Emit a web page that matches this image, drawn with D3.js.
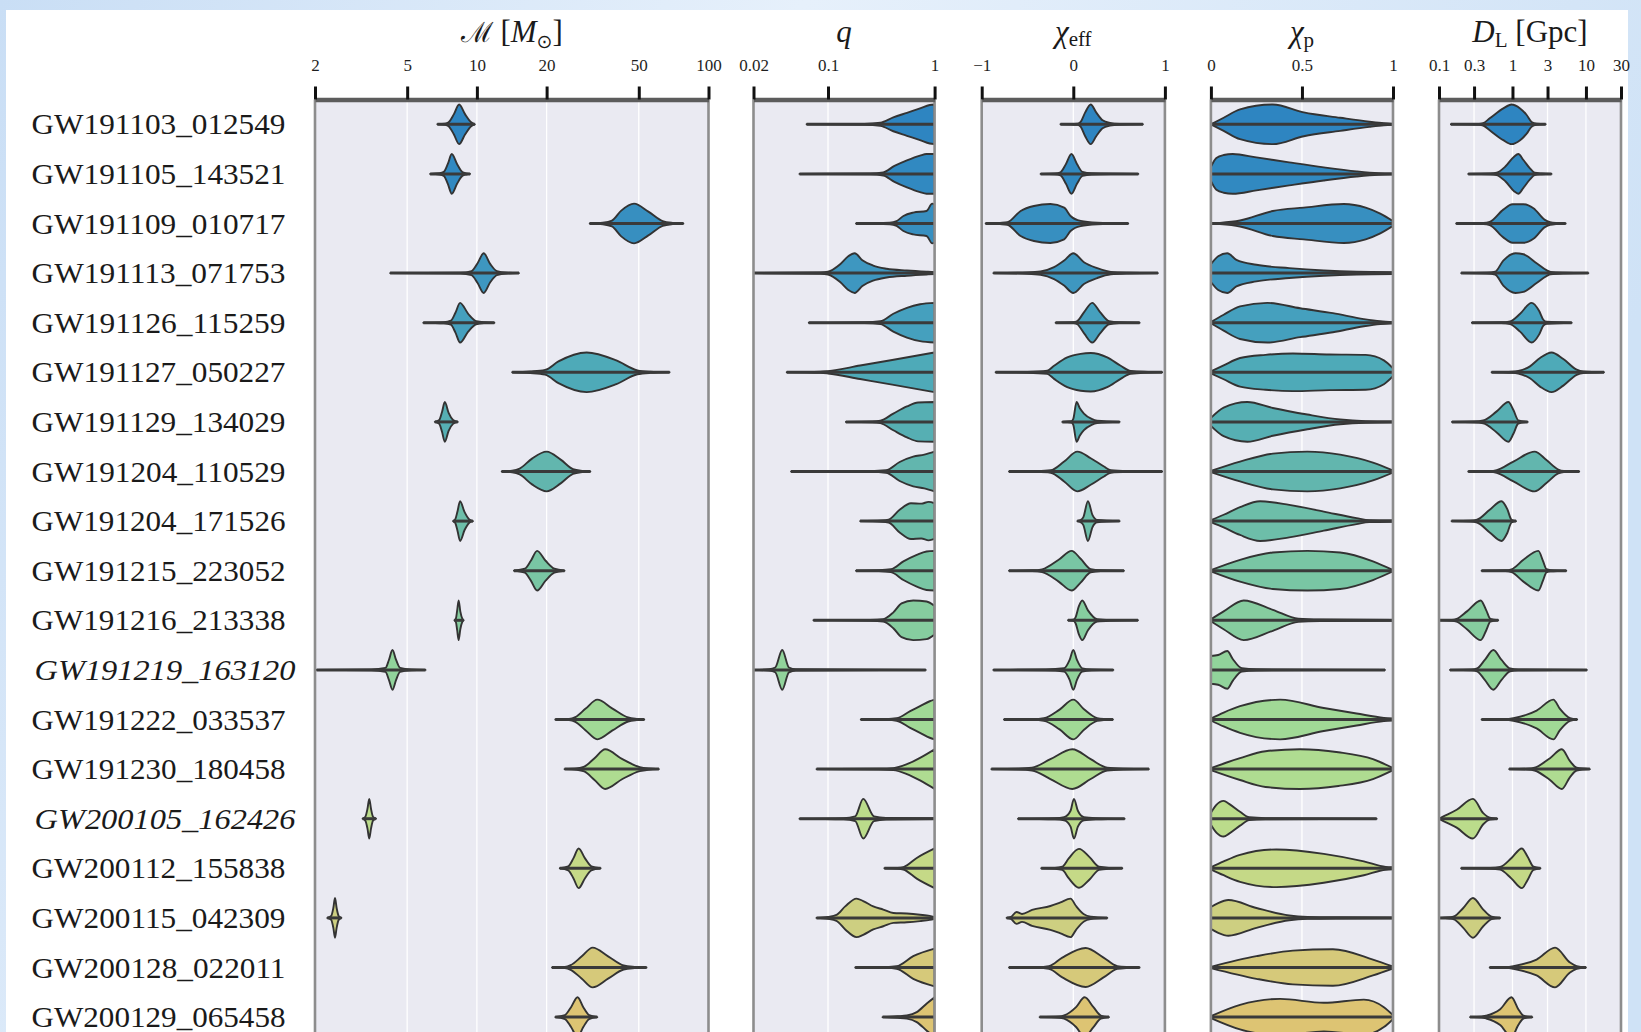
<!DOCTYPE html>
<html>
<head>
<meta charset="utf-8">
<script src="https://cdn.jsdelivr.net/npm/d3@7"></script>
<style>
  html, body { margin: 0; padding: 0; background: #fff; overflow: hidden; }
  svg { display: block; }
</style>
</head>
<body>
<svg id="chart" width="1641" height="1032"></svg>
<script>
// ---- Events (rows, top to bottom) ----
const events = [
  "GW191103_012549", "GW191105_143521", "GW191109_010717", "GW191113_071753",
  "GW191126_115259", "GW191127_050227", "GW191129_134029", "GW191204_110529",
  "GW191204_171526", "GW191215_223052", "GW191216_213338", "GW191219_163120",
  "GW191222_033537", "GW191230_180458", "GW200105_162426", "GW200112_155838",
  "GW200115_042309", "GW200128_022011", "GW200129_065458"
];
// marginal events are set in italics
const italicEvents = ["GW191219_163120", "GW200105_162426"];

// ---- Tick values and their labels ----
const chirpMassTicks = [2, 5, 10, 20, 50, 100];
const chirpMassTickLabels = ["2", "5", "10", "20", "50", "100"];
const massRatioTicks = [0.02, 0.1, 1];
const massRatioTickLabels = ["0.02", "0.1", "1"];
const chiEffTicks = [-1, 0, 1];
const chiEffTickLabels = ["\u22121", "0", "1"];
const chiPTicks = [0, 0.5, 1];
const chiPTickLabels = ["0", "0.5", "1"];
const distanceTicks = [0.1, 0.3, 1, 3, 10, 30];
const distanceTickLabels = ["0.1", "0.3", "1", "3", "10", "30"];

// ---- Posterior violins: [value, relative half-width] profiles, one per event ----
// The first and last values of each profile are the ends of the range line.
const chirpMass = [
  [[6.75,0],[7.3,0.03],[7.55,0.1],[7.95,0.5],[8.38,1],[8.9,0.5],[9.45,0.1],[9.7,0.02],[9.8,0]],
  [[6.28,0],[6.9,0.03],[7.2,0.1],[7.49,0.5],[7.79,1],[8.21,0.5],[8.65,0.1],[9.0,0.03],[9.35,0]],
  [[30.7,0],[35,0.04],[38.3,0.15],[42,0.65],[47.7,1],[55,0.6],[63.4,0.12],[70,0.03],[77.9,0]],
  [[4.22,0],[8.5,0.02],[9.48,0.1],[10.07,0.5],[10.7,1],[11.43,0.45],[12.2,0.1],[13.5,0.02],[15.2,0]],
  [[5.87,0],[7.2,0.03],[7.72,0.1],[8.08,0.5],[8.46,1],[9.17,0.45],[9.93,0.08],[10.8,0.02],[11.9,0]],
  [[14.2,0],[17,0.04],[19.7,0.12],[22.5,0.55],[29.8,1],[40,0.6],[49.3,0.1],[56,0.03],[67.9,0]],
  [[6.58,0],[6.88,0.1],[7.07,0.5],[7.27,1],[7.55,0.45],[7.89,0.1],[8.27,0]],
  [[12.8,0],[14.2,0.04],[15.3,0.15],[17.3,0.65],[20,1],[23,0.6],[26,0.12],[28.5,0.03],[30.9,0]],
  [[7.89,0],[8.07,0.1],[8.25,0.5],[8.46,1],[8.85,0.45],[9.27,0.08],[9.62,0]],
  [[14.45,0],[16.1,0.1],[17.1,0.5],[18.2,1],[19.8,0.5],[21.6,0.1],[23.9,0]],
  [[8.0,0],[8.12,0.1],[8.22,0.5],[8.34,1],[8.48,0.45],[8.65,0.08],[8.77,0]],
  [[2.03,0],[3.5,0.02],[4.03,0.1],[4.17,0.5],[4.32,1],[4.48,0.5],[4.66,0.1],[5.2,0.02],[6.0,0]],
  [[21.8,0],[25,0.03],[26.6,0.12],[29.5,0.55],[33.1,1],[38.5,0.55],[45,0.1],[49,0.03],[52.8,0]],
  [[23.9,0],[27,0.03],[29.1,0.12],[32.2,0.55],[35.8,1],[42.5,0.5],[50.5,0.1],[55,0.03],[61.1,0]],
  [[3.21,0],[3.3,0.1],[3.37,0.5],[3.43,1],[3.49,0.5],[3.56,0.1],[3.67,0]],
  [[22.8,0],[24.8,0.1],[26.1,0.5],[27.5,1],[29.3,0.5],[31.2,0.1],[34.2,0]],
  [[2.26,0],[2.35,0.1],[2.4,0.5],[2.44,1],[2.48,0.5],[2.53,0.1],[2.6,0]],
  [[21.1,0],[24,0.03],[25.4,0.12],[28.3,0.55],[31.6,1],[37,0.55],[43,0.1],[48,0.03],[54,0]],
  [[21.8,0],[24,0.1],[25.5,0.5],[27.2,1],[28.8,0.5],[30.5,0.1],[33.1,0]]
];

const massRatio = [
  [[0.063,0],[0.22,0.02],[0.31,0.08],[0.41,0.35],[0.55,0.58],[0.73,0.8],[0.9,0.97],[1,1]],
  [[0.054,0],[0.25,0.02],[0.33,0.08],[0.42,0.4],[0.55,0.68],[0.73,0.92],[0.84,1],[1,1]],
  [[0.183,0],[0.38,0.04],[0.44,0.12],[0.51,0.38],[0.63,0.55],[0.84,0.63],[0.95,1],[1,0.95]],
  [[0.02,0],[0.085,0.03],[0.1,0.07],[0.13,0.45],[0.155,0.85],[0.178,1],[0.21,0.65],[0.265,0.38],[0.355,0.22],[0.55,0.13],[0.84,0.07],[1,0.05]],
  [[0.066,0],[0.22,0.02],[0.31,0.07],[0.41,0.45],[0.55,0.75],[0.73,0.93],[1,1]],
  [[0.041,0],[0.085,0.03],[0.1,0.06],[0.2,0.34],[0.4,0.62],[1,1]],
  [[0.147,0],[0.26,0.02],[0.31,0.06],[0.41,0.42],[0.55,0.78],[0.7,0.98],[1,1]],
  [[0.045,0],[0.25,0.02],[0.35,0.06],[0.47,0.48],[0.63,0.75],[0.8,0.85],[1,1]],
  [[0.2,0],[0.32,0.03],[0.37,0.07],[0.47,0.57],[0.6,0.9],[0.75,0.88],[0.88,0.97],[1,0.9]],
  [[0.183,0],[0.3,0.02],[0.39,0.07],[0.51,0.47],[0.68,0.8],[0.84,0.97],[1,1]],
  [[0.073,0],[0.25,0.02],[0.33,0.06],[0.41,0.4],[0.49,0.85],[0.63,1],[0.84,0.95],[1,0.72]],
  [[0.02,0],[0.028,0.03],[0.032,0.12],[0.0372,1],[0.043,0.12],[0.05,0.03],[0.826,0]],
  [[0.203,0],[0.35,0.02],[0.44,0.06],[0.59,0.42],[0.73,0.67],[0.9,0.92],[1,1]],
  [[0.078,0],[0.3,0.02],[0.41,0.05],[0.55,0.25],[0.73,0.57],[1,1]],
  [[0.054,0],[0.14,0.03],[0.18,0.12],[0.214,1],[0.27,0.12],[0.35,0.04],[1,0.02]],
  [[0.338,0],[0.45,0.02],[0.51,0.06],[0.68,0.52],[1,1]],
  [[0.078,0],[0.1,0.05],[0.12,0.15],[0.145,0.58],[0.185,0.97],[0.214,0.85],[0.266,0.58],[0.33,0.42],[0.41,0.25],[0.55,0.22],[0.73,0.16],[0.9,0.1],[1,0.04]],
  [[0.18,0],[0.35,0.02],[0.44,0.06],[0.63,0.57],[1,0.95]],
  [[0.325,0],[0.45,0.04],[0.55,0.08],[0.68,0.25],[0.85,0.7],[1,1]]
];

const chiEff = [
  [[-0.14,0],[0.05,0.03],[0.08,0.12],[0.13,0.6],[0.19,1],[0.25,0.6],[0.32,0.2],[0.4,0.07],[0.5,0.02],[0.76,0]],
  [[-0.357,0],[-0.2,0.02],[-0.14,0.08],[-0.08,0.5],[-0.02,1],[0.04,0.5],[0.1,0.1],[0.2,0.03],[0.71,0]],
  [[-0.957,0],[-0.8,0.03],[-0.72,0.06],[-0.575,0.63],[-0.43,0.88],[-0.25,0.98],[-0.1,0.8],[-0.03,0.38],[0.08,0.13],[0.26,0.04],[0.6,0]],
  [[-0.873,0],[-0.5,0.03],[-0.357,0.08],[-0.21,0.3],[-0.1,0.63],[0,1],[0.116,0.55],[0.26,0.25],[0.41,0.06],[0.6,0.02],[0.924,0]],
  [[-0.193,0],[0,0.02],[0.044,0.08],[0.12,0.55],[0.207,1],[0.29,0.55],[0.39,0.08],[0.5,0.02],[0.724,0]],
  [[-0.848,0],[-0.5,0.02],[-0.284,0.08],[-0.21,0.33],[-0.066,0.75],[0.08,0.93],[0.19,0.97],[0.37,0.75],[0.517,0.33],[0.626,0.07],[0.97,0]],
  [[-0.12,0],[-0.02,0.03],[0,0.15],[0.036,1],[0.07,0.7],[0.116,0.42],[0.2,0.15],[0.26,0.06],[0.506,0]],
  [[-0.702,0],[-0.4,0.02],[-0.247,0.06],[-0.1,0.5],[0.044,1],[0.19,0.67],[0.335,0.25],[0.41,0.06],[0.6,0.02],[0.97,0]],
  [[0.044,0],[0.08,0.05],[0.11,0.2],[0.16,1],[0.21,0.3],[0.26,0.06],[0.506,0]],
  [[-0.702,0],[-0.45,0.02],[-0.34,0.07],[-0.16,0.55],[-0.018,1],[0.08,0.6],[0.19,0.08],[0.3,0.02],[0.553,0]],
  [[-0.058,0],[0,0.03],[0.025,0.15],[0.06,0.7],[0.098,1],[0.16,0.5],[0.26,0.06],[0.4,0.02],[0.706,0]],
  [[-0.873,0],[-0.3,0.02],[-0.1,0.08],[-0.04,0.5],[0,1],[0.04,0.5],[0.098,0.08],[0.2,0.02],[0.437,0]],
  [[-0.757,0],[-0.45,0.02],[-0.32,0.07],[-0.15,0.5],[0,1],[0.12,0.5],[0.26,0.07],[0.35,0.02],[0.433,0]],
  [[-0.895,0],[-0.6,0.02],[-0.45,0.07],[-0.25,0.5],[-0.01,1],[0.19,0.5],[0.37,0.07],[0.55,0.02],[0.826,0]],
  [[-0.604,0],[-0.2,0.03],[-0.1,0.08],[-0.03,0.4],[0.007,1],[0.05,0.4],[0.116,0.08],[0.25,0.03],[0.56,0]],
  [[-0.35,0],[-0.2,0.02],[-0.12,0.08],[-0.05,0.5],[0.062,0.98],[0.18,0.55],[0.28,0.08],[0.4,0.02],[0.535,0]],
  [[-0.728,0],[-0.68,0.05],[-0.62,0.3],[-0.56,0.2],[-0.45,0.4],[-0.25,0.6],[-0.14,0.78],[-0.03,0.97],[0.03,0.6],[0.116,0.18],[0.19,0.06],[0.371,0]],
  [[-0.702,0],[-0.4,0.02],[-0.266,0.07],[-0.12,0.5],[0.135,0.98],[0.33,0.5],[0.48,0.07],[0.6,0.02],[0.724,0]],
  [[-0.368,0],[-0.15,0.03],[-0.1,0.08],[0.03,0.5],[0.124,1],[0.22,0.5],[0.3,0.08],[0.39,0]]
];

const chiP = [
  [[0,0],[0.07,0.33],[0.16,0.75],[0.34,1],[0.51,0.6],[0.71,0.33],[0.87,0.13],[0.95,0.05],[1,0.02]],
  [[0,0.35],[0.03,0.8],[0.07,0.95],[0.12,1],[0.25,0.83],[0.43,0.58],[0.62,0.33],[0.8,0.13],[0.92,0.04],[1,0.02]],
  [[0,0],[0.05,0.03],[0.16,0.15],[0.34,0.63],[0.51,0.8],[0.73,0.98],[0.85,0.8],[0.93,0.5],[1,0.12]],
  [[0,0.45],[0.04,0.85],[0.09,1],[0.14,0.67],[0.25,0.42],[0.43,0.25],[0.62,0.13],[0.8,0.07],[1,0.05]],
  [[0,0.03],[0.07,0.4],[0.16,0.82],[0.31,1],[0.49,0.73],[0.67,0.48],[0.84,0.18],[0.93,0.07],[1,0.03]],
  [[0,0.05],[0.07,0.35],[0.16,0.72],[0.3,0.88],[0.45,0.95],[0.65,0.9],[0.85,0.88],[0.95,0.6],[1,0.2]],
  [[0,0.2],[0.07,0.72],[0.2,1],[0.34,0.7],[0.53,0.37],[0.71,0.12],[0.85,0.04],[1,0.02]],
  [[0,0.03],[0.16,0.5],[0.34,0.9],[0.53,1],[0.71,0.85],[0.89,0.45],[1,0.05]],
  [[0,0.05],[0.07,0.32],[0.16,0.7],[0.27,1],[0.43,0.82],[0.62,0.48],[0.8,0.15],[0.87,0.05],[1,0.03]],
  [[0,0.03],[0.16,0.55],[0.34,0.92],[0.53,1],[0.71,0.92],[0.89,0.47],[1,0.03]],
  [[0,0.05],[0.07,0.45],[0.18,1],[0.34,0.53],[0.48,0.08],[0.6,0.04],[1,0.02]],
  [[0,0.7],[0.04,0.75],[0.09,0.95],[0.12,0.55],[0.17,0.08],[0.25,0.03],[0.956,0]],
  [[0,0.05],[0.07,0.35],[0.16,0.67],[0.38,1],[0.62,0.58],[0.8,0.3],[0.95,0.08],[1,0.05]],
  [[0,0.05],[0.16,0.55],[0.3,0.9],[0.49,1],[0.7,0.85],[0.89,0.5],[1,0.05]],
  [[0,0.3],[0.03,0.7],[0.07,0.9],[0.1,0.75],[0.16,0.35],[0.21,0.07],[0.3,0.03],[0.91,0]],
  [[0,0.05],[0.07,0.35],[0.16,0.68],[0.36,0.95],[0.62,0.73],[0.84,0.35],[0.96,0.07],[1,0.05]],
  [[0,0.55],[0.04,0.75],[0.096,0.9],[0.25,0.5],[0.43,0.12],[0.53,0.05],[0.7,0.03],[1,0.02]],
  [[0,0.03],[0.25,0.57],[0.45,0.85],[0.67,0.92],[0.89,0.4],[1,0.05]],
  [[0,0.05],[0.16,0.62],[0.38,0.92],[0.62,0.72],[0.84,0.88],[0.95,0.5],[1,0.1]]
];

const distance = [
  [[0.145,0],[0.35,0.02],[0.4,0.06],[0.49,0.3],[0.75,0.8],[0.97,1],[1.27,0.8],[1.56,0.47],[1.82,0.12],[2.13,0.03],[2.83,0]],
  [[0.25,0],[0.5,0.02],[0.61,0.06],[0.8,0.37],[1.05,0.87],[1.2,1],[1.41,0.7],[1.73,0.28],[2.0,0.06],[2.5,0.02],[3.4,0]],
  [[0.171,0],[0.4,0.03],[0.49,0.08],[0.75,0.7],[1.0,0.97],[1.41,0.97],[1.93,0.77],[2.76,0.18],[3.24,0.07],[4,0.02],[5.3,0]],
  [[0.2,0],[0.45,0.02],[0.58,0.07],[0.75,0.63],[1.1,1],[1.41,0.95],[2.13,0.5],[2.9,0.15],[3.3,0.06],[5,0.02],[10.8,0]],
  [[0.28,0],[0.7,0.02],[0.93,0.07],[1.27,0.45],[1.82,1],[2.3,0.6],[2.63,0.15],[2.9,0.05],[6.4,0]],
  [[0.52,0],[1.0,0.03],[1.2,0.07],[1.73,0.3],[2.37,0.72],[3.4,1],[4.92,0.67],[7.48,0.13],[9.2,0.04],[17.6,0]],
  [[0.15,0],[0.3,0.02],[0.4,0.07],[0.61,0.53],[0.88,1],[1.03,0.6],[1.2,0.08],[1.61,0]],
  [[0.25,0],[0.5,0.02],[0.61,0.07],[1.03,0.5],[2.0,1],[2.9,0.58],[4.2,0.1],[5,0.03],[8.1,0]],
  [[0.148,0],[0.27,0.02],[0.33,0.07],[0.49,0.57],[0.71,1],[0.85,0.6],[0.97,0.07],[1.12,0]],
  [[0.38,0],[0.8,0.02],[0.97,0.07],[1.41,0.55],[2.25,1],[2.6,0.5],[2.9,0.08],[3.3,0.03],[5.4,0]],
  [[0.1,0],[0.15,0.02],[0.174,0.07],[0.24,0.45],[0.37,1],[0.44,0.5],[0.5,0.07],[0.64,0]],
  [[0.141,0],[0.28,0.02],[0.33,0.07],[0.42,0.5],[0.55,1],[0.71,0.5],[0.93,0.07],[1.2,0.02],[10.3,0]],
  [[0.38,0],[0.8,0.02],[1.03,0.07],[2.13,0.45],[3.6,1],[4.4,0.55],[6.07,0.07],[7.6,0]],
  [[0.9,0],[1.6,0.02],[2.0,0.07],[3.24,0.55],[4.7,1],[6.07,0.4],[7.48,0.07],[11.3,0]],
  [[0.1,0],[0.11,0.08],[0.174,0.45],[0.29,1],[0.4,0.28],[0.49,0.05],[0.62,0]],
  [[0.2,0],[0.5,0.02],[0.68,0.07],[0.97,0.52],[1.34,1],[1.6,0.6],[1.93,0.08],[2.4,0]],
  [[0.1,0],[0.14,0.03],[0.16,0.07],[0.214,0.5],[0.29,1],[0.4,0.42],[0.52,0.06],[0.68,0]],
  [[0.49,0],[0.9,0.03],[1.03,0.07],[2.13,0.4],[3.8,1],[6.07,0.25],[7.48,0.07],[10,0]],
  [[0.264,0],[0.38,0.02],[0.44,0.07],[0.68,0.4],[0.97,1],[1.2,0.4],[1.41,0.07],[1.86,0]]
];

// ---- Row colours (blue at the top, sand at the bottom) ----
const rowColors = [
  "#2e85c1", "#3189c1", "#378fc0", "#3e97c0", "#45a0be", "#4eaab8", "#56afb3",
  "#62b6ae", "#6dbea9", "#79c6a4", "#86cd9f", "#91d39b", "#a1d996", "#afdc91",
  "#bbdc8b", "#c5d987", "#cdcf81", "#d6c97a", "#ddc473"
];

// ---- Layout ----
const W = 1641, H = 1032;
const plotTop = 99.5;
const rowStep = 49.6;
const panelBottom = 1070;           // panels run past the lower edge
const serif = "'Liberation Serif', 'DejaVu Serif', serif";

const svg = d3.select("#chart");
const defs = svg.append("defs");

// light blue page frame
const grad = defs.append("linearGradient").attr("id", "frameGrad")
  .attr("x1", "0").attr("x2", "1").attr("y1", "0").attr("y2", "0.3");
grad.append("stop").attr("offset", "0").attr("stop-color", "#c9def5");
grad.append("stop").attr("offset", "0.45").attr("stop-color", "#e6f0fb");
grad.append("stop").attr("offset", "1").attr("stop-color", "#cfe2f6");
svg.append("rect").attr("width", W).attr("height", H).attr("fill", "url(#frameGrad)");
svg.append("rect").attr("x", 6).attr("y", 10).attr("width", 1622).attr("height", H)
  .attr("fill", "#ffffff");

const y = d3.scaleBand().domain(events)
  .range([plotTop, plotTop + events.length * rowStep]).padding(0);
const halfMax = y.bandwidth() * 0.4;

// ---- Row labels ----
svg.append("g").selectAll("text").data(events).join("text")
  .attr("x", d => italicEvents.includes(d) ? 34.5 : 31.5)
  .attr("y", d => y(d) + y.bandwidth() / 2 + 10)
  .attr("font-family", serif)
  .attr("font-size", 30)
  .attr("font-style", d => italicEvents.includes(d) ? "italic" : "normal")
  .attr("fill", "#1a1a1a")
  .attr("textLength", d => italicEvents.includes(d) ? 261 : 254)
  .attr("lengthAdjust", "spacingAndGlyphs")
  .text(d => d);

// ---- Panels ----
const panels = [
  { id: "mc",   values: chirpMass, scale: d3.scaleLog().domain([2, 100]).range([315, 708.5]),
    ticks: chirpMassTicks, labels: chirpMassTickLabels },
  { id: "q",    values: massRatio, scale: d3.scaleLog().domain([0.02, 1]).range([753.5, 934.6]),
    ticks: massRatioTicks, labels: massRatioTickLabels },
  { id: "xeff", values: chiEff, scale: d3.scaleLinear().domain([-1, 1]).range([981.7, 1164.9]),
    ticks: chiEffTicks, labels: chiEffTickLabels },
  { id: "xp",   values: chiP, scale: d3.scaleLinear().domain([0, 1]).range([1210.9, 1393]),
    ticks: chiPTicks, labels: chiPTickLabels },
  { id: "dl",   values: distance, scale: d3.scaleLog().domain([0.1, 30]).range([1439, 1621]),
    ticks: distanceTicks, labels: distanceTickLabels }
];

panels.forEach(p => {
  const [x0, x1] = p.scale.range();
  const g = svg.append("g").attr("class", "panel-" + p.id);

  defs.append("clipPath").attr("id", "clip-" + p.id)
    .append("rect").attr("x", x0).attr("y", plotTop).attr("width", x1 - x0).attr("height", panelBottom - plotTop);

  g.append("rect").attr("x", x0).attr("y", plotTop).attr("width", x1 - x0)
    .attr("height", panelBottom - plotTop).attr("fill", "#eaeaf2");

  // white grid lines at inner ticks
  g.append("g").selectAll("line")
    .data(p.ticks.filter(t => t > p.scale.domain()[0] && t < p.scale.domain()[1]))
    .join("line")
    .attr("x1", d => p.scale(d)).attr("x2", d => p.scale(d))
    .attr("y1", plotTop).attr("y2", panelBottom)
    .attr("stroke", "#ffffff").attr("stroke-width", 1.3);

  const body = g.append("g").attr("clip-path", `url(#clip-${p.id})`);

  events.forEach((ev, i) => {
    const prof = p.values[i];
    const cy = y(ev) + y.bandwidth() / 2;
    const area = d3.area()
      .x(d => p.scale(d[0]))
      .y0(d => cy - d[1] * halfMax)
      .y1(d => cy + d[1] * halfMax)
      .curve(d3.curveMonotoneX);
    body.append("path").datum(prof)
      .attr("d", area)
      .attr("fill", rowColors[i])
      .attr("stroke", "#333333")
      .attr("stroke-width", 1.9)
      .attr("stroke-linejoin", "round");
    body.append("line")
      .attr("x1", p.scale(prof[0][0])).attr("x2", p.scale(prof[prof.length - 1][0]))
      .attr("y1", cy).attr("y2", cy)
      .attr("stroke", "#3a3a3a").attr("stroke-width", 3);
  });

  // panel side borders
  [x0, x1].forEach(x => {
    g.append("line").attr("x1", x).attr("x2", x).attr("y1", plotTop).attr("y2", panelBottom)
      .attr("stroke", "#8d8d8d").attr("stroke-width", 2.6);
  });

  // top axis
  const axis = d3.axisTop(p.scale)
    .tickValues(p.ticks)
    .tickFormat((d, k) => p.labels[k])
    .tickSize(13).tickSizeOuter(0).tickPadding(16);
  const ag = g.append("g").attr("transform", `translate(0,${plotTop})`).call(axis);
  ag.select(".domain").attr("stroke", "#5c5c5c").attr("stroke-width", 4.5);
  ag.selectAll(".tick line").attr("stroke", "#111111").attr("stroke-width", 3);
  ag.selectAll(".tick text").attr("font-family", serif).attr("font-size", 17)
    .attr("fill", "#1e1e1e");
});

// ---- Panel titles ----
function title(cx) {
  return svg.append("text").attr("x", cx).attr("y", 42).attr("text-anchor", "middle")
    .attr("font-family", serif).attr("font-size", 31).attr("fill", "#1a1a1a");
}
const tMc = title((315 + 708.5) / 2);
tMc.append("tspan").attr("font-family", "'DejaVu Serif', serif").attr("font-size", 28).text("\u2133");
tMc.append("tspan").text(" [");
tMc.append("tspan").attr("font-style", "italic").text("M");
tMc.append("tspan").attr("font-size", 19).attr("dy", 6).attr("font-family", "'DejaVu Sans', sans-serif").text("\u2299");
tMc.append("tspan").attr("dy", -6).text("]");

const tQ = title((753.5 + 934.6) / 2);
tQ.append("tspan").attr("font-style", "italic").text("q");

const tXe = title((981.7 + 1164.9) / 2);
tXe.append("tspan").attr("font-style", "italic").text("\u03c7");
tXe.append("tspan").attr("font-size", 21).attr("dy", 4).text("eff");

const tXp = title((1210.9 + 1393) / 2);
tXp.append("tspan").attr("font-style", "italic").text("\u03c7");
tXp.append("tspan").attr("font-size", 21).attr("dy", 5).text("p");

const tDl = title((1439 + 1621) / 2);
tDl.append("tspan").attr("font-style", "italic").text("D");
tDl.append("tspan").attr("font-size", 21).attr("dy", 5).text("L");
tDl.append("tspan").attr("dy", -5).text(" [Gpc]");
</script>
</body>
</html>
